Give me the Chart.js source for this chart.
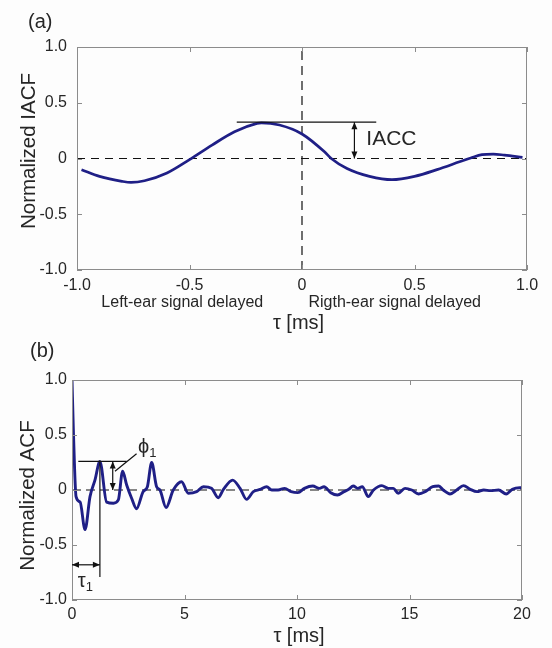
<!DOCTYPE html>
<html>
<head>
<meta charset="utf-8">
<script src="https://cdn.jsdelivr.net/npm/chart.js@4.4.1/dist/chart.umd.min.js"></script>
<style>
body { margin: 0; background: #fdfdfd; }
canvas { position: absolute; left: 0; }
#iacf { top: 0; }
#acf { top: 335px; }
</style>
</head>
<body>
<canvas id="iacf" width="552" height="335"></canvas>
<canvas id="acf" width="552" height="313"></canvas>
<script>
// (a) normalized interaural cross-correlation
const iacfTau = [-0.98, -0.9, -0.8, -0.76, -0.7, -0.6, -0.5, -0.4, -0.3, -0.2, -0.18, -0.1, 0.0,
                 0.1, 0.13, 0.2, 0.3, 0.4, 0.5, 0.6, 0.7, 0.75, 0.8, 0.85, 0.9, 0.98];
const iacfValues = [-0.10, -0.16, -0.205, -0.215, -0.20, -0.13, -0.01, 0.12, 0.24, 0.315, 0.32, 0.30, 0.22,
                    0.06, 0.0, -0.09, -0.16, -0.19, -0.16, -0.10, -0.03, 0.005, 0.035, 0.04, 0.03, 0.01];
const iacfXTicks = [-1, -0.5, 0, 0.5, 1];
const iacfYTicks = [-1, -0.5, 0, 0.5, 1];
const iacc = 0.326;            // peak level marked on the plot
const iaccSpan = [-0.29, 0.33];
const iaccArrowTau = 0.233;

// (b) normalized autocorrelation
const acfTau = [0, 0.06, 0.18, 0.36, 0.58, 0.8, 1.02, 1.24, 1.54, 1.84, 2.06, 2.25, 2.43, 2.65, 2.87,
                3.16, 3.35, 3.54, 3.76, 3.91, 4.18, 4.5, 4.87, 5.17, 5.54, 5.84, 6.2, 6.5, 6.73, 7.14,
                7.47, 7.76, 8.06, 8.36, 8.65, 8.88, 9.16, 9.45, 9.74, 10.04, 10.33, 10.7, 11.0, 11.2,
                11.5, 11.8, 12.09, 12.3, 12.5, 12.7, 12.9, 13.17, 13.4, 13.77, 14.06, 14.28, 14.5,
                14.8, 15.1, 15.4, 15.7, 16.03, 16.3, 16.5, 16.8, 17.1, 17.4, 17.7, 18.0, 18.3, 18.6,
                18.96, 19.3, 19.57, 19.9, 20];
const acfValues = [1.0, 0.55, -0.06, -0.11, -0.36, -0.06, 0.09, 0.26, -0.11, -0.12, -0.09, 0.17, 0.045, -0.075, -0.17,
                   -0.015, 0.03, 0.25, 0.03, 0.0, -0.16, 0.0, 0.075, -0.03, -0.015, 0.03, 0.015, -0.07, 0.005, 0.09,
                   0.015, -0.085, -0.015, 0.005, 0.03, 0.0, 0.0, 0.015, -0.015, -0.024, 0.015, 0.036, 0.015, 0.03,
                   -0.024, -0.045, -0.015, 0.006, 0.036, 0.015, 0.03, -0.06, 0.0, 0.04, 0.015, 0.015, -0.03,
                   0.015, 0.0, -0.036, -0.015, 0.03, 0.036, 0.0, -0.036, 0.0, 0.04, 0.006, -0.015, 0.0, -0.006,
                   0.0, -0.036, 0.006, 0.02, 0.02];
const acfXTicks = [0, 5, 10, 15, 20];
const acfYTicks = [-1, -0.5, 0, 0.5, 1];
const tau1 = 1.24, phi1 = 0.26;

const FONT = '"Liberation Sans", Arial, sans-serif';
const INK = '#262626';
const CURVE = '#1f1f86';

function pts(xs, ys) { return xs.map((x, i) => ({ x: x, y: ys[i] })); }
function fmt(v) { return v === 0 ? '0' : v.toFixed(1); }

function head(ctx, x, y, ang) {
    ctx.save();
    ctx.translate(x, y);
    ctx.rotate(ang);
    ctx.beginPath();
    ctx.moveTo(0, 0);
    ctx.lineTo(-7, -3);
    ctx.lineTo(-7, 3);
    ctx.closePath();
    ctx.fill();
    ctx.restore();
}

function dblArrow(ctx, x1, y1, x2, y2) {
    ctx.beginPath();
    ctx.moveTo(x1, y1);
    ctx.lineTo(x2, y2);
    ctx.stroke();
    const a = Math.atan2(y2 - y1, x2 - x1);
    head(ctx, x2, y2, a);
    head(ctx, x1, y1, a + Math.PI);
}

function text(ctx, s, x, y, size, align, rot) {
    ctx.save();
    ctx.font = size + 'px ' + FONT;
    ctx.fillStyle = INK;
    ctx.textAlign = align || 'center';
    ctx.textBaseline = 'middle';
    ctx.translate(x, y);
    if (rot) ctx.rotate(rot);
    ctx.fillText(s, 0, 0);
    ctx.restore();
}

function subText(ctx, s, sub, x, y) {
    ctx.save();
    ctx.font = '20px ' + FONT;
    const w = ctx.measureText(s).width;
    ctx.restore();
    text(ctx, s, x, y, 20, 'left');
    text(ctx, sub, x + w, y + 6, 13, 'left');
}

function framePlugin(extras) {
    return {
        id: 'frame',
        afterDatasetsDraw(chart) {
            const ctx = chart.ctx, a = chart.chartArea;
            const xs = chart.scales.x, ys = chart.scales.y;
            ctx.save();
            ctx.strokeStyle = '#8c8c8c';
            ctx.lineWidth = 1;
            ctx.strokeRect(a.left + 0.5, a.top + 0.5, a.width - 1, a.height - 1);
            ctx.beginPath();
            xs.ticks.forEach(t => {
                const p = Math.round(xs.getPixelForValue(t.value)) + 0.5;
                ctx.moveTo(p, a.bottom); ctx.lineTo(p, a.bottom - 5);
                ctx.moveTo(p, a.top); ctx.lineTo(p, a.top + 5);
            });
            ys.ticks.forEach(t => {
                const p = Math.round(ys.getPixelForValue(t.value)) + 0.5;
                ctx.moveTo(a.left, p); ctx.lineTo(a.left + 5, p);
                ctx.moveTo(a.right, p); ctx.lineTo(a.right - 5, p);
            });
            ctx.stroke();
            ctx.fillStyle = '#111';
            ctx.strokeStyle = '#111';
            ctx.lineWidth = 1.2;
            extras(ctx, xs, ys, a);
            ctx.restore();
        }
    };
}

function axes(xTicks, yTicks, xMin, xMax, yW, xH, tickPadY, tickPadX) {
    const tickFont = { family: FONT, size: 16 };
    return {
        x: {
            type: 'linear', min: xMin, max: xMax,
            grid: { display: false, drawTicks: false },
            border: { display: false },
            afterBuildTicks: s => { s.ticks = xTicks.map(v => ({ value: v })); },
            afterFit: s => { s.height = xH; },
            ticks: { font: tickFont, color: INK, padding: tickPadX, maxRotation: 0, autoSkip: false,
                     callback: v => xMax > 5 ? String(v) : fmt(v) }
        },
        y: {
            type: 'linear', min: -1, max: 1,
            grid: { display: false, drawTicks: false },
            border: { display: false },
            afterBuildTicks: s => { s.ticks = yTicks.map(v => ({ value: v })); },
            afterFit: s => { s.width = yW; },
            ticks: { font: tickFont, color: INK, padding: tickPadY, autoSkip: false, callback: v => fmt(v) }
        }
    };
}

const lineBase = { pointRadius: 0, fill: false };

new Chart(document.getElementById('iacf'), {
    type: 'line',
    data: {
        datasets: [
            Object.assign({ data: pts(iacfTau, iacfValues), borderColor: CURVE, borderWidth: 2.7,
                            cubicInterpolationMode: 'monotone' }, lineBase),
            Object.assign({ data: pts([-1, 1], [0, 0]), borderColor: '#111', borderWidth: 1.2,
                            borderDash: [8, 6] }, lineBase),
            Object.assign({ data: pts([0, 0], [-1, 1]), borderColor: '#111', borderWidth: 1.2,
                            borderDash: [9, 6] }, lineBase)
        ]
    },
    options: {
        responsive: false, animation: false,
        layout: { padding: { left: 0, top: 47, right: 25, bottom: 0 } },
        plugins: { legend: { display: false }, tooltip: { enabled: false } },
        scales: axes(iacfXTicks, iacfYTicks, -1, 1, 77, 65, 10, 6)
    },
    plugins: [framePlugin((ctx, xs, ys, a) => {
        const yL = ys.getPixelForValue(iacc);
        ctx.beginPath();
        ctx.moveTo(xs.getPixelForValue(iaccSpan[0]), yL);
        ctx.lineTo(xs.getPixelForValue(iaccSpan[1]), yL);
        ctx.stroke();
        const xa = xs.getPixelForValue(iaccArrowTau);
        dblArrow(ctx, xa, yL, xa, ys.getPixelForValue(0));
        text(ctx, 'IACC', xs.getPixelForValue(0.286), ys.getPixelForValue(0.177), 21, 'left');
        text(ctx, '(a)', 28, 22, 20, 'left');
        text(ctx, 'Normalized IACF', 29, 151, 20.5, 'center', -Math.PI / 2);
        text(ctx, 'Left-ear signal delayed', xs.getPixelForValue(-0.532), a.bottom + 33, 16);
        text(ctx, 'Rigth-ear signal delayed', xs.getPixelForValue(0.412), a.bottom + 33, 16);
        text(ctx, '\u03c4 [ms]', 298.5, 323, 20);
    })]
});

new Chart(document.getElementById('acf'), {
    type: 'line',
    data: {
        datasets: [
            Object.assign({ data: pts(acfTau, acfValues), borderColor: CURVE, borderWidth: 2.9,
                            cubicInterpolationMode: 'monotone' }, lineBase),
            Object.assign({ data: pts([0, 20], [0, 0]), borderColor: '#111', borderWidth: 1.1,
                            borderDash: [9, 5] }, lineBase)
        ]
    },
    options: {
        responsive: false, animation: false,
        layout: { padding: { left: 0, top: 45, right: 30, bottom: 0 } },
        plugins: { legend: { display: false }, tooltip: { enabled: false } },
        scales: axes(acfXTicks, acfYTicks, 0, 20, 72, 48, 5, 5)
    },
    plugins: [framePlugin((ctx, xs, ys, a) => {
        const xp = xs.getPixelForValue(tau1), yp = ys.getPixelForValue(phi1);
        ctx.beginPath();
        ctx.moveTo(xs.getPixelForValue(0.28), yp);
        ctx.lineTo(xs.getPixelForValue(2.43), yp);
        ctx.moveTo(xp, yp);
        ctx.lineTo(xp, ys.getPixelForValue(-0.79));
        ctx.stroke();
        const yArr = ys.getPixelForValue(-0.68);
        dblArrow(ctx, xs.getPixelForValue(0), yArr, xp, yArr);
        const xPhi = xs.getPixelForValue(1.81);
        dblArrow(ctx, xPhi, yp, xPhi, ys.getPixelForValue(0));
        ctx.beginPath();
        ctx.moveTo(xs.getPixelForValue(2.87), ys.getPixelForValue(0.33));
        ctx.lineTo(xs.getPixelForValue(1.91), ys.getPixelForValue(0.17));
        ctx.stroke();
        subText(ctx, '\u03c4', '1', xs.getPixelForValue(0.26), ys.getPixelForValue(-0.83));
        subText(ctx, '\u03d5', '1', xs.getPixelForValue(2.93), ys.getPixelForValue(0.39));
        text(ctx, '(b)', 30, 16, 20, 'left');
        text(ctx, 'Normalized ACF', 28, 160.5, 20.5, 'center', -Math.PI / 2);
        text(ctx, '\u03c4 [ms]', 299, 301, 20);
    })]
});
</script>
</body>
</html>
